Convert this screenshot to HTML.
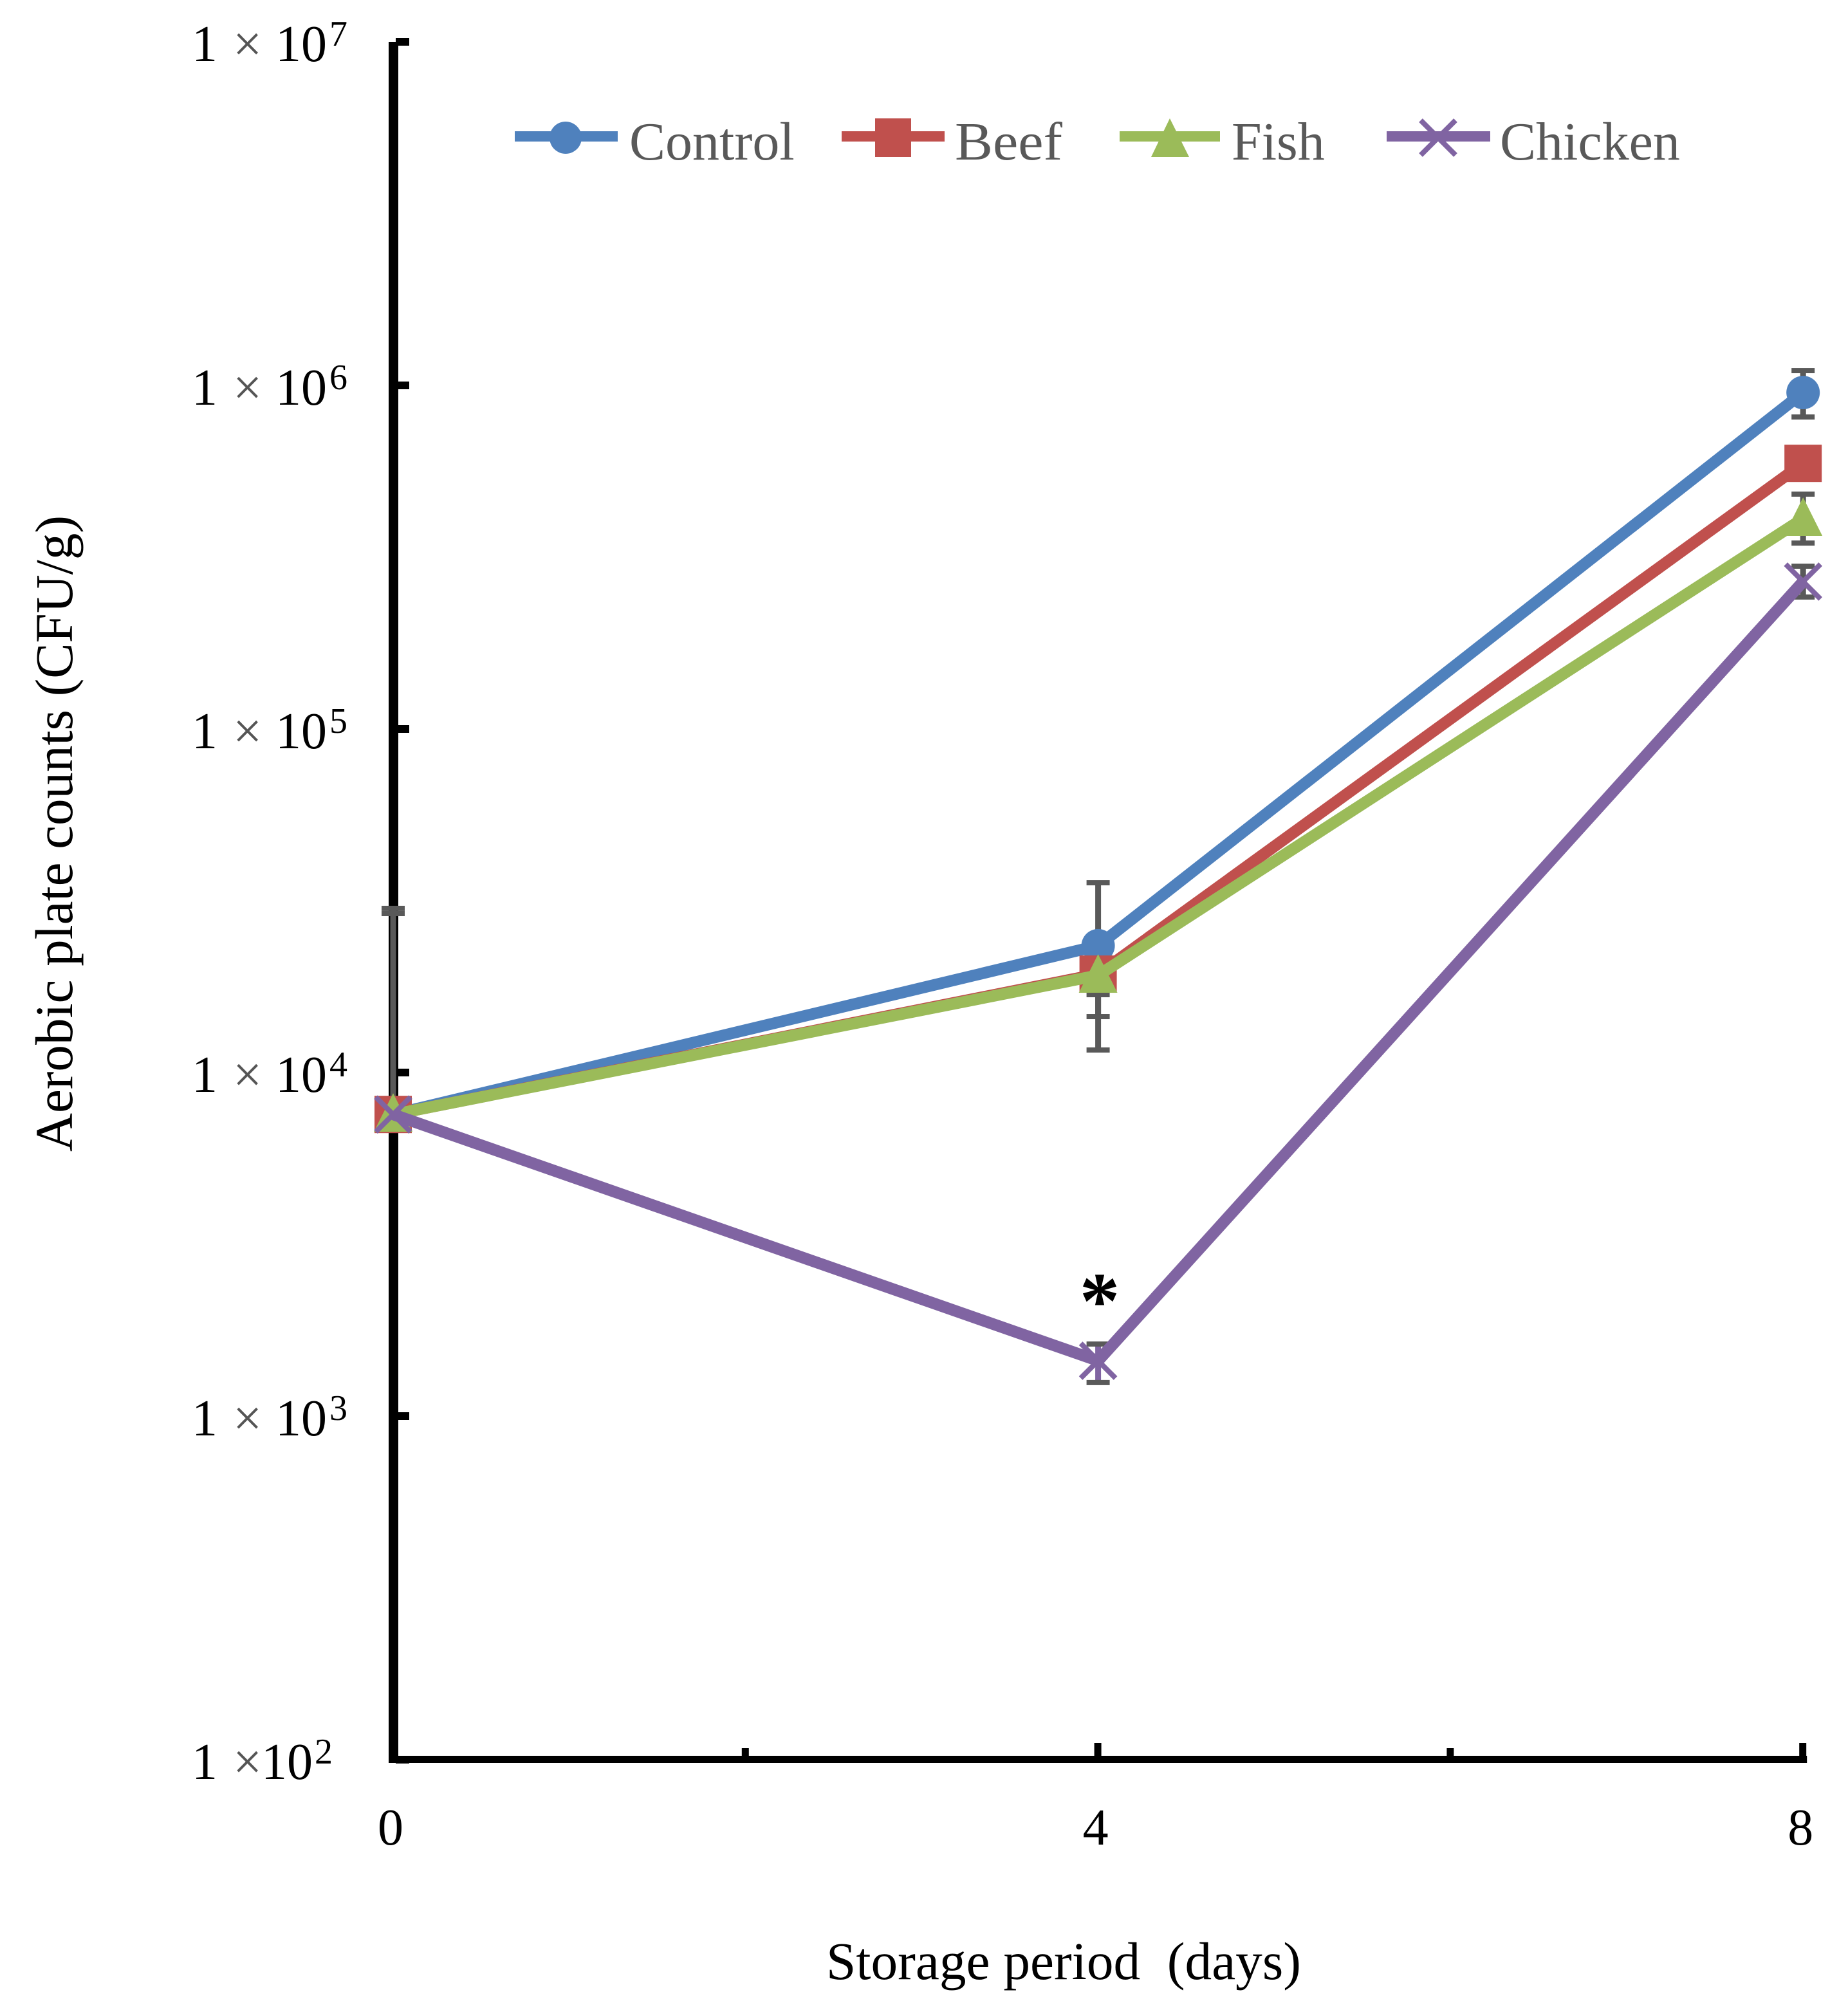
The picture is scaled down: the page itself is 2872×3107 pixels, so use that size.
<!DOCTYPE html>
<html lang="en">
<head>
<meta charset="utf-8">
<title>Aerobic plate counts during storage</title>
<style>
html,body{margin:0;padding:0;background:#fff;}
svg{display:block;}
text{font-family:"Liberation Serif","Times New Roman",serif;}
</style>
</head>
<body>
<svg id="chart" xmlns="http://www.w3.org/2000/svg" width="2872" height="3107" viewBox="0 0 2872 3107">
  <rect x="0" y="0" width="2872" height="3107" fill="#ffffff"/>
  <g id="axes"></g>
  <g id="errors"></g>
  <g id="plot"></g>

  <text transform="translate(112,1790) rotate(-90)" font-size="83" fill="#000" textLength="989" lengthAdjust="spacingAndGlyphs">Aerobic plate counts (CFU/g)</text>
  <text x="1284" y="3076" font-size="83" fill="#000" textLength="738" lengthAdjust="spacingAndGlyphs">Storage period&#160;&#160;(days)</text>
  <text x="1709" y="2064" font-size="125" font-weight="bold" text-anchor="middle" fill="#000">*</text>

  <g>
    <g>
      <rect x="800" y="204" width="160" height="16" fill="#4f81bd"/>
      <circle cx="879" cy="214" r="25" fill="#4f81bd"/>
      <text x="978" y="248" font-size="84" fill="#595959">Control</text>
    </g>
    <g>
      <rect x="1308" y="204" width="160" height="16" fill="#c0504d"/>
      <rect x="1360" y="184" width="56" height="60" fill="#c0504d"/>
      <text x="1484" y="248" font-size="84" fill="#595959" textLength="167" lengthAdjust="spacingAndGlyphs">Beef</text>
    </g>
    <g>
      <rect x="1740" y="204" width="156" height="16" fill="#9bbb59"/>
      <polygon points="1818,184 1848,244 1789,244" fill="#9bbb59"/>
      <text x="1914" y="248" font-size="84" fill="#595959">Fish</text>
    </g>
    <g>
      <rect x="2155" y="204" width="161" height="16" fill="#8064a2"/>
      <path d="M2208,187 L2262,241 M2262,187 L2208,241" stroke="#8064a2" stroke-width="8" fill="none"/>
      <text x="2331" y="248" font-size="84" fill="#595959">Chicken</text>
    </g>
  </g>
</svg>

<script>
// ---- chart data ----
const days = [0, 4, 8];
const xTickDays = [0, 2, 4, 6, 8];
const xTickLabels = ["0", "", "4", "", "8"];
const yTickExponents = [2, 3, 4, 5, 6, 7];

const controlValues = [7550, 23400, 953000];
const beefValues = [7550, 19340, 593000];
const fishValues = [7550, 19180, 409500];
const chickenValues = [7550, 1449, 268500];

const controlErrHigh = [30040, 35670, 1104000];
const controlErrLow = [7550, 11630, 809000];
const beefErrHigh = [7550, 22200, 647000];
const beefErrLow = [7550, 16850, 544500];
const fishErrHigh = [29010, 24400, 482500];
const fishErrLow = [7550, 14550, 347600];
const chickenErrHigh = [7550, 1621, 297700];
const chickenErrLow = [7550, 1252, 242100];

// ---- axis functions ----
function xScale(day) { return 611 + day * 273.9; }
function yScale(value) { return 2735 - 534 * (Math.log10(value) - 2); }

const SVG_NS = "http://www.w3.org/2000/svg";
function mk(tag, attrs, parent) {
  const el = document.createElementNS(SVG_NS, tag);
  for (const k in attrs) el.setAttribute(k, attrs[k]);
  parent.appendChild(el);
  return el;
}

const axes = document.getElementById("axes");
const errors = document.getElementById("errors");
const plot = document.getElementById("plot");

// ---- axes ----
const yAxisLine = mk("rect", {x: 604, y: yScale(1e7), width: 15, height: yScale(100) - yScale(1e7) + 5, fill: "#000"}, axes);



const xAxisLine = mk("rect", {x: 604, y: yScale(100) - 6, width: xScale(8) - 604 + 6, height: 11, fill: "#000"}, axes);



yTickExponents.forEach(function (exp) {
  const py = yScale(Math.pow(10, exp));
  const tick = mk("rect", {x: 615, y: py - 6, width: 21, height: 12, fill: "#000"}, axes);
  
  

  const narrow = exp === 2;
  const label = mk("text", {y: py + 30, "font-size": 80, fill: "#000"}, axes);
  
  

  const one = mk("tspan", {x: 298}, label);
  one.textContent = "1";
  const times = mk("tspan", {x: 362, fill: "#555"}, label);
  times.textContent = "\u00d7";
  const ten = mk("tspan", {x: narrow ? 406 : 428}, label);
  ten.textContent = "10";
  const sup = mk("tspan", {x: narrow ? 489 : 512, y: py + 6, "font-size": 56}, label);
  sup.textContent = String(exp);
});

xTickDays.forEach(function (d, i) {
  const px = xScale(d);
  const base = yScale(100);
  const major = xTickLabels[i] !== "";
  const top = major ? base - 26 : base - 18;
  const tick = mk("rect", {x: px - 6, y: top, width: 11, height: base - top, fill: "#000"}, axes);
  
  

  if (major) {
    const label = mk("text", {x: px - 4, y: 2867, "font-size": 80, "text-anchor": "middle", fill: "#000"}, axes);
    
    
    label.textContent = xTickLabels[i];
  }
});

// ---- series ----
function drawErrorBars(high, low, stemColor, parent) {
  days.forEach(function (d, i) {
    const px = xScale(d);
    const yh = yScale(high[i]);
    const yl = yScale(low[i]);
    const stem = mk("rect", {x: px - 4.5, y: yh, width: 9, height: Math.max(0, yl - yh), fill: stemColor[i]}, parent);
    
    

    const capHigh = mk("rect", {x: px - 18, y: yh - 4, width: 36, height: 8, fill: "#595959"}, parent);
    
    

    const capLow = mk("rect", {x: px - 18, y: yl - 4, width: 36, height: 8, fill: "#595959"}, parent);
    
    
  });
}

function drawLine(values, color, parent) {
  const pts = days.map(function (d, i) { return xScale(d) + "," + yScale(values[i]); }).join(" ");
  const line = mk("polyline", {points: pts, fill: "none", stroke: color, "stroke-width": 18, "stroke-linejoin": "round"}, parent);
  return line;
}

const GREY_STEMS = ["#595959", "#595959", "#595959"];
const CHICKEN_STEMS = ["#595959", "#8064a2", "#595959"];

// all error bars sit beneath the lines and markers
drawErrorBars(controlErrHigh, controlErrLow, GREY_STEMS, errors);
drawErrorBars(beefErrHigh, beefErrLow, GREY_STEMS, errors);
drawErrorBars(fishErrHigh, fishErrLow, GREY_STEMS, errors);
drawErrorBars(chickenErrHigh, chickenErrLow, CHICKEN_STEMS, errors);

// control
const controlGroup = mk("g", {}, plot);


const controlLine = drawLine(controlValues, "#4f81bd", controlGroup);


days.forEach(function (d, i) {
  const m = mk("circle", {cx: xScale(d), cy: yScale(controlValues[i]), r: 26, fill: "#4f81bd"}, controlGroup);
  
  
});

// beef
const beefGroup = mk("g", {}, plot);


const beefLine = drawLine(beefValues, "#c0504d", beefGroup);


days.forEach(function (d, i) {
  const m = mk("rect", {x: xScale(d) - 29, y: yScale(beefValues[i]) - 29, width: 58, height: 58, fill: "#c0504d"}, beefGroup);
  
  
});

// fish
const fishGroup = mk("g", {}, plot);


const fishLine = drawLine(fishValues, "#9bbb59", fishGroup);


days.forEach(function (d, i) {
  const cx = xScale(d);
  const cy = yScale(fishValues[i]);
  const pts = cx + "," + (cy - 33) + " " + (cx + 30) + "," + (cy + 27) + " " + (cx - 30) + "," + (cy + 27);
  const m = mk("polygon", {points: pts, fill: "#9bbb59"}, fishGroup);
  
  
});

// chicken
const chickenGroup = mk("g", {}, plot);


const chickenLine = drawLine(chickenValues, "#8064a2", chickenGroup);


days.forEach(function (d, i) {
  const cx = xScale(d);
  const cy = yScale(chickenValues[i]);
  const s = 27;
  const path = "M" + (cx - s) + "," + (cy - s) + " L" + (cx + s) + "," + (cy + s) + " M" + (cx + s) + "," + (cy - s) + " L" + (cx - s) + "," + (cy + s);
  const m = mk("path", {d: path, fill: "none", stroke: "#8064a2", "stroke-width": 8}, chickenGroup);
  
  
});
</script>
</body>
</html>
